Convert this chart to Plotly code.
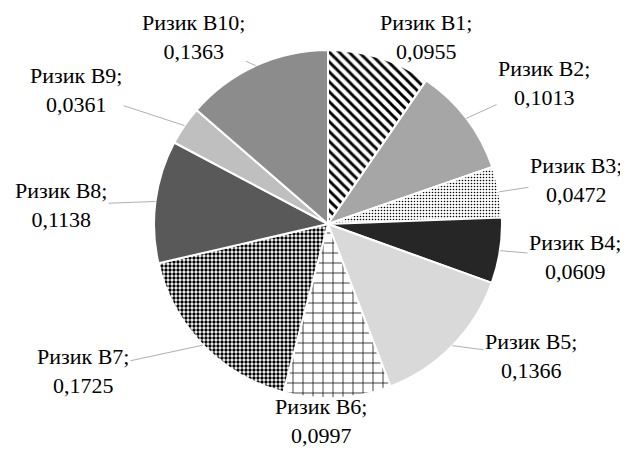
import math
import plotly.graph_objects as go

labels = ["Ризик B1", "Ризик B2", "Ризик B3", "Ризик B4", "Ризик B5",
          "Ризик B6", "Ризик B7", "Ризик B8", "Ризик B9", "Ризик B10"]
values = [0.0955, 0.1013, 0.0472, 0.0609, 0.1366,
          0.0997, 0.1725, 0.1138, 0.0361, 0.1363]
value_text = [f"{v:.4f}".replace(".", ",") for v in values]

# styles
fill_colors = ["#ffffff", "#a6a6a6", "#ffffff", "#262626", "#d9d9d9",
               "#ffffff", "#ffffff", "#595959", "#bfbfbf", "#8c8c8c"]
shapes = ["\\", "", ".", "", "", "+", ".", "", "", ""]
sizes = [7, 8, 3, 8, 8, 10, 4, 8, 8, 8]
solidity = [0.42, 0.3, 0.22, 0.3, 0.3, 0.14, 0.55, 0.3, 0.3, 0.3]

# label placement (pixel centres of label blocks) and leader visibility
W, H = 628, 449
CX, CY, R = 320, 216, 174
label_pos = [(418, 29), (536, 75), (568, 172), (567, 249), (523, 348),
             (313, 413), (75, 363), (53, 197), (68, 82), (185, 29)]
leader = [False, True, True, True, True, False, True, True, True, True]

FONT = dict(family="Liberation Serif, Times New Roman, serif", size=22, color="#000000")

fig = go.Figure(go.Pie(
    labels=labels,
    values=values,
    sort=False,
    direction="clockwise",
    rotation=0,
    textinfo="none",
    marker=dict(
        colors=fill_colors,
        line=dict(color="#ffffff", width=2),
        pattern=dict(shape=shapes, fgcolor="#000000", bgcolor=fill_colors,
                     fgopacity=1, size=sizes, solidity=solidity, fillmode="replace"),
    ),
    domain=dict(x=[(CX - R) / W, (CX + R) / W], y=[1 - (CY + R) / H, 1 - (CY - R) / H]),
    showlegend=False,
    hoverinfo="label+value",
))

total = sum(values)
cum = 0.0
annotations = []
for lab, v, vt, (lx, ly), show in zip(labels, values, value_text, label_pos, leader):
    mid = 2 * math.pi * (cum + v / 2) / total
    cum += v
    tx = CX + R * math.sin(mid)
    ty = CY - R * math.cos(mid)
    annotations.append(dict(
        x=tx / W, y=1 - ty / H, xref="paper", yref="paper",
        text=f"{lab};<br>{vt}",
        showarrow=True, arrowhead=0, arrowwidth=1,
        arrowcolor="#b0b0b0" if show else "rgba(0,0,0,0)",
        ax=lx - tx, ay=ly - ty,
        font=FONT, align="center",
    ))

fig.update_layout(
    width=W, height=H,
    margin=dict(l=0, r=0, t=0, b=0),
    paper_bgcolor="#ffffff",
    plot_bgcolor="#ffffff",
    annotations=annotations,
)

fig.write_html("out.html")
